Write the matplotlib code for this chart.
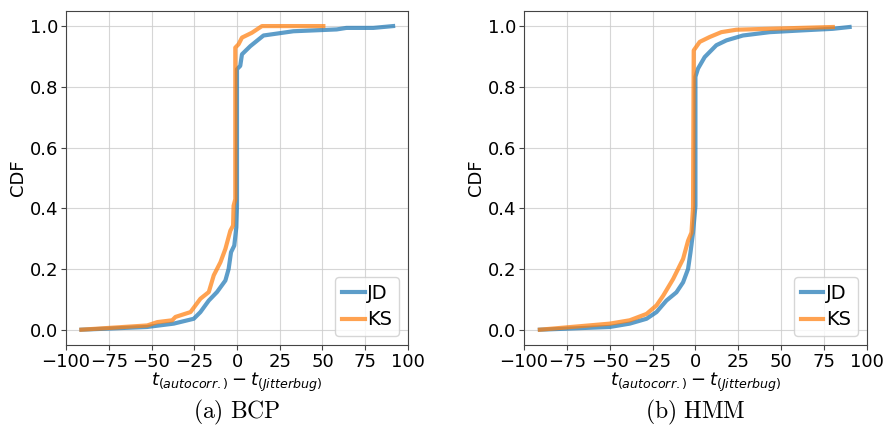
import matplotlib.pyplot as plt

plt.rcParams['mathtext.fontset'] = 'dejavusans'

# CDF points (difference in detection time, cumulative fraction)
bcp_jd_x = [-91, -52.5, -37, -25.3, -21.4, -16.5, -11.7, -6.8, -4.9, -3.5, -1.6, -0.4, 0, 0, 1.9, 2.9, 7.8, 15.5, 33, 58.3, 64, 79.7, 91.3]
bcp_jd_y = [0.0, 0.009, 0.02, 0.036, 0.058, 0.096, 0.124, 0.162, 0.2, 0.255, 0.277, 0.337, 0.408, 0.858, 0.869, 0.907, 0.934, 0.969, 0.983, 0.989, 0.994, 0.994, 1.0]
bcp_ks_x = [-91, -52.5, -46.6, -37.9, -36, -27.2, -24.3, -21.4, -16.5, -13.6, -9.7, -6.8, -3.9, -2.3, -2, -1, -1, 0.9, 2.9, 8.7, 14.6, 50.5]
bcp_ks_y = [0.0, 0.014, 0.025, 0.031, 0.042, 0.058, 0.08, 0.102, 0.124, 0.179, 0.222, 0.266, 0.326, 0.343, 0.408, 0.43, 0.929, 0.94, 0.962, 0.978, 1.0, 1.0]

hmm_jd_x = [-90.7, -49.9, -38.3, -28.5, -22.7, -16.9, -11.1, -7.2, -4.3, -2.9, -1.4, 0, 0, 1.5, 5.4, 12.2, 18.1, 27.7, 43.3, 62.7, 80.1, 89.9]
hmm_jd_y = [0.0, 0.009, 0.02, 0.036, 0.058, 0.096, 0.123, 0.156, 0.2, 0.254, 0.32, 0.407, 0.833, 0.86, 0.898, 0.937, 0.953, 0.969, 0.98, 0.986, 0.991, 0.997]
hmm_ks_x = [-90.7, -49.9, -38.3, -28.5, -22.7, -18.8, -13, -7.2, -4.3, -2.3, -1.4, -1, 2.5, 8.3, 15.1, 23.9, 80.1]
hmm_ks_y = [0.0, 0.02, 0.031, 0.052, 0.08, 0.112, 0.167, 0.233, 0.293, 0.32, 0.402, 0.92, 0.948, 0.964, 0.98, 0.988, 0.997]

panels = [
    (r"$\mathrm{(a)\ BCP}$", bcp_jd_x, bcp_jd_y, bcp_ks_x, bcp_ks_y),
    (r"$\mathrm{(b)\ HMM}$", hmm_jd_x, hmm_jd_y, hmm_ks_x, hmm_ks_y),
]

fig = plt.figure(figsize=(8.85, 4.36), dpi=100)
axes = [fig.add_axes([0.0746, 0.209, 0.3864, 0.766]),
        fig.add_axes([0.592, 0.209, 0.3876, 0.766])]

for ax, (caption, jx, jy, kx, ky) in zip(axes, panels):
    ax.plot(jx, jy, color='tab:blue', lw=3, alpha=0.72, label='JD')
    ax.plot(kx, ky, color='tab:orange', lw=3, alpha=0.72, label='KS')
    ax.set_xlim(-100, 100)
    ax.set_ylim(-0.05, 1.05)
    ax.set_xticks([-100, -75, -50, -25, 0, 25, 50, 75, 100])
    ax.set_yticks([0.0, 0.2, 0.4, 0.6, 0.8, 1.0])
    ax.tick_params(labelsize=13, color='#444444', pad=2)
    for sp in ax.spines.values():
        sp.set_color('#444444')
    ax.grid(True, color='#cccccc', lw=0.8, alpha=0.8)
    ax.set_ylabel('CDF', fontsize=13, labelpad=2)
    ax.set_xlabel(r'$t_{(autocorr.)} - t_{(Jitterbug)}$', fontsize=13, labelpad=0)
    ax.legend(loc='lower right', fontsize=14, handlelength=1.15,
              handletextpad=0.15, borderpad=0.35, labelspacing=0.4,
              borderaxespad=0.45)
    pos = ax.get_position()
    fig.text((pos.x0 + pos.x1) / 2, 0.055, caption, ha='center', va='center',
             fontsize=17, math_fontfamily='cm')

fig.savefig('out.png', dpi=100)
